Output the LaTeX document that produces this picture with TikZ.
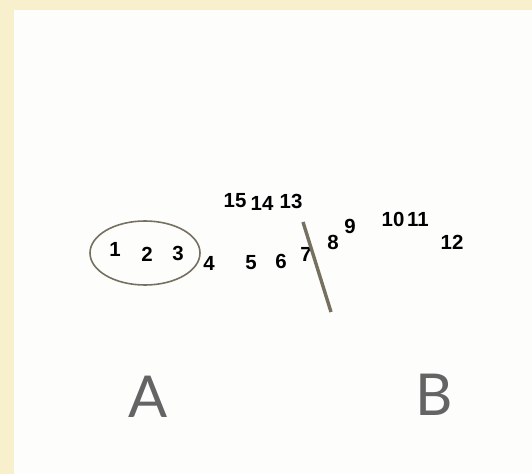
\documentclass[tikz,border=0pt]{standalone}
\usepackage{fontspec}
\setmainfont{Liberation Sans}
\newfontfamily\letterfont{Lato}
\usetikzlibrary{shapes.geometric}
\definecolor{cream}{RGB}{248,239,204}
\definecolor{paper}{RGB}{253,253,251}
\definecolor{mud}{RGB}{118,112,96}
\definecolor{letter}{RGB}{100,100,100}

\begin{document}
\begin{tikzpicture}[x=1bp,y=-1bp]
\tikzstyle{num}=[inner sep=0pt,font=\fontsize{20.5}{20.5}\selectfont\bfseries]
\tikzstyle{big}=[inner sep=0pt,text=letter,font=\fontsize{58}{58}\letterfont]
% page
\fill[cream] (0,0) rectangle (532,474);
\fill[paper] (14,10) rectangle (532,474);
\useasboundingbox (0,0) rectangle (532,474);
% numbers
\node[num] (n1) at (115,249) {1};
\node[num] (n2) at (147,254) {2};
\node[num] (n3) at (178,253) {3};
\node[num] (n4) at (209,263) {4};
\node[num] (n5) at (251,263) {5};
\node[num] (n6) at (281,261) {6};
\node[num] (n7) at (306,254) {7};
\node[num] (n8) at (333,242) {8};
\node[num] (n9) at (350,226) {9};
\node[num] (n10) at (393,219) {10};
\node[num] (n11) at (418,219) {11};
\node[num] (n12) at (452,242) {12};
\node[num] (n13) at (291,201) {13};
\node[num] (n14) at (262,203) {14};
\node[num] (n15) at (235,201) {15};
% group and cut
\node[draw=mud,line width=1.6bp,ellipse,minimum width=110bp,minimum height=64bp] (grp) at (145,253) {};
\coordinate (cuttop) at (303,222);
\coordinate (cutbot) at (331,312);
\draw[mud,line width=3.4bp] (cuttop) -- (cutbot);
% labels
\node[big] (la) at (148,397) {A};
\node[big] (lb) at (434,395) {B};
\end{tikzpicture}
\end{document}
